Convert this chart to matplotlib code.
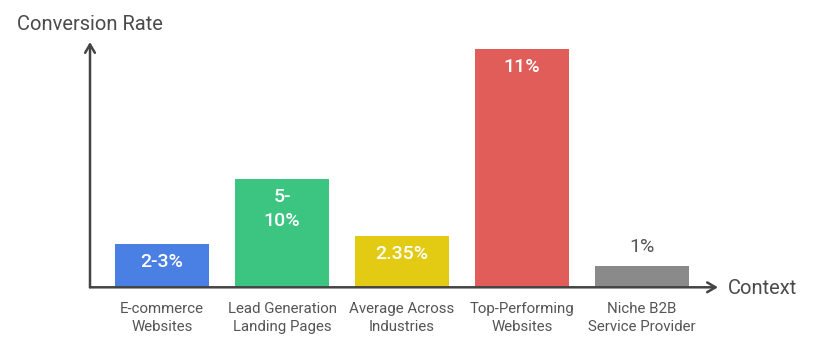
import matplotlib
matplotlib.use("Agg")
import matplotlib.pyplot as plt
from matplotlib.transforms import offset_copy

# conversion rate by context
categories = ["E-commerce\nWebsites", "Lead Generation\nLanding Pages", "Average Across\nIndustries",
              "Top-Performing\nWebsites", "Niche B2B\nService Provider"]
rates = [2, 5, 2.35, 11, 1]
rate_labels = ["2-3%", "5-\n10%", "2.35%", "11%", "1%"]
colors = ["#4A7FE3", "#3CC481", "#E2CB12", "#E15D59", "#8A8A8A"]

plt.rcParams['font.family'] = ['Roboto', 'DejaVu Sans']

W, H, DPI = 822, 349, 100
fig = plt.figure(figsize=(W / DPI, H / DPI), dpi=DPI)

# axes box in pixels: y axis at x=90, baseline at y=287 (from top), arrows end at x=718 / y=42
left, right, top, base = 90, 718, 42, 287.3
ax = fig.add_axes([left / W, (H - base) / H, (right - left) / W, (base - top) / H])
ax.set_xlim(-0.6, 4.633)
ax.set_ylim(0, 11.32)
ax.axis("off")

x = list(range(len(categories)))
ax.bar(x, rates, width=0.783, color=colors)

axis_col = "#444444"
arrow = dict(arrowstyle="->,head_length=0.6,head_width=0.35", color=axis_col, lw=1.8,
             shrinkA=0, shrinkB=0)
ax.annotate("", xy=(0, 1), xytext=(0, 0), xycoords="axes fraction", arrowprops=arrow)
ax.annotate("", xy=(1, 0), xytext=(0, 0), xycoords="axes fraction", arrowprops=arrow)

fig.text(17 / W, 1 - 24 / H, "Conversion Rate", fontsize=14.5, color="#4a4a4a",
         ha="left", va="center")
fig.text(728 / W, 1 - 288 / H, "Context", fontsize=14.5, color="#4a4a4a",
         ha="left", va="center")

# value labels: inside the bar when it is tall enough, otherwise on top
for xi, v, lab in zip(x, rates, rate_labels):
    if v >= 1.5:
        tr = offset_copy(ax.transData, fig=fig, y=-9 * 72 / DPI, units="points")
        ax.text(xi, v, lab, transform=tr, ha="center", va="top", fontsize=14,
                fontweight="medium", color="white", linespacing=1.4)
    else:
        tr = offset_copy(ax.transData, fig=fig, y=10 * 72 / DPI, units="points")
        ax.text(xi, v, lab, transform=tr, ha="center", va="bottom", fontsize=14,
                color="#555555")

# category labels under the baseline
for xi, cat in zip(x, categories):
    tr = offset_copy(ax.get_xaxis_transform(), fig=fig, y=-15 * 72 / DPI, units="points")
    ax.text(xi, 0, cat, transform=tr, ha="center", va="top", fontsize=10.8,
            color="#555555", linespacing=1.35)

fig.savefig("out.png", dpi=DPI)
